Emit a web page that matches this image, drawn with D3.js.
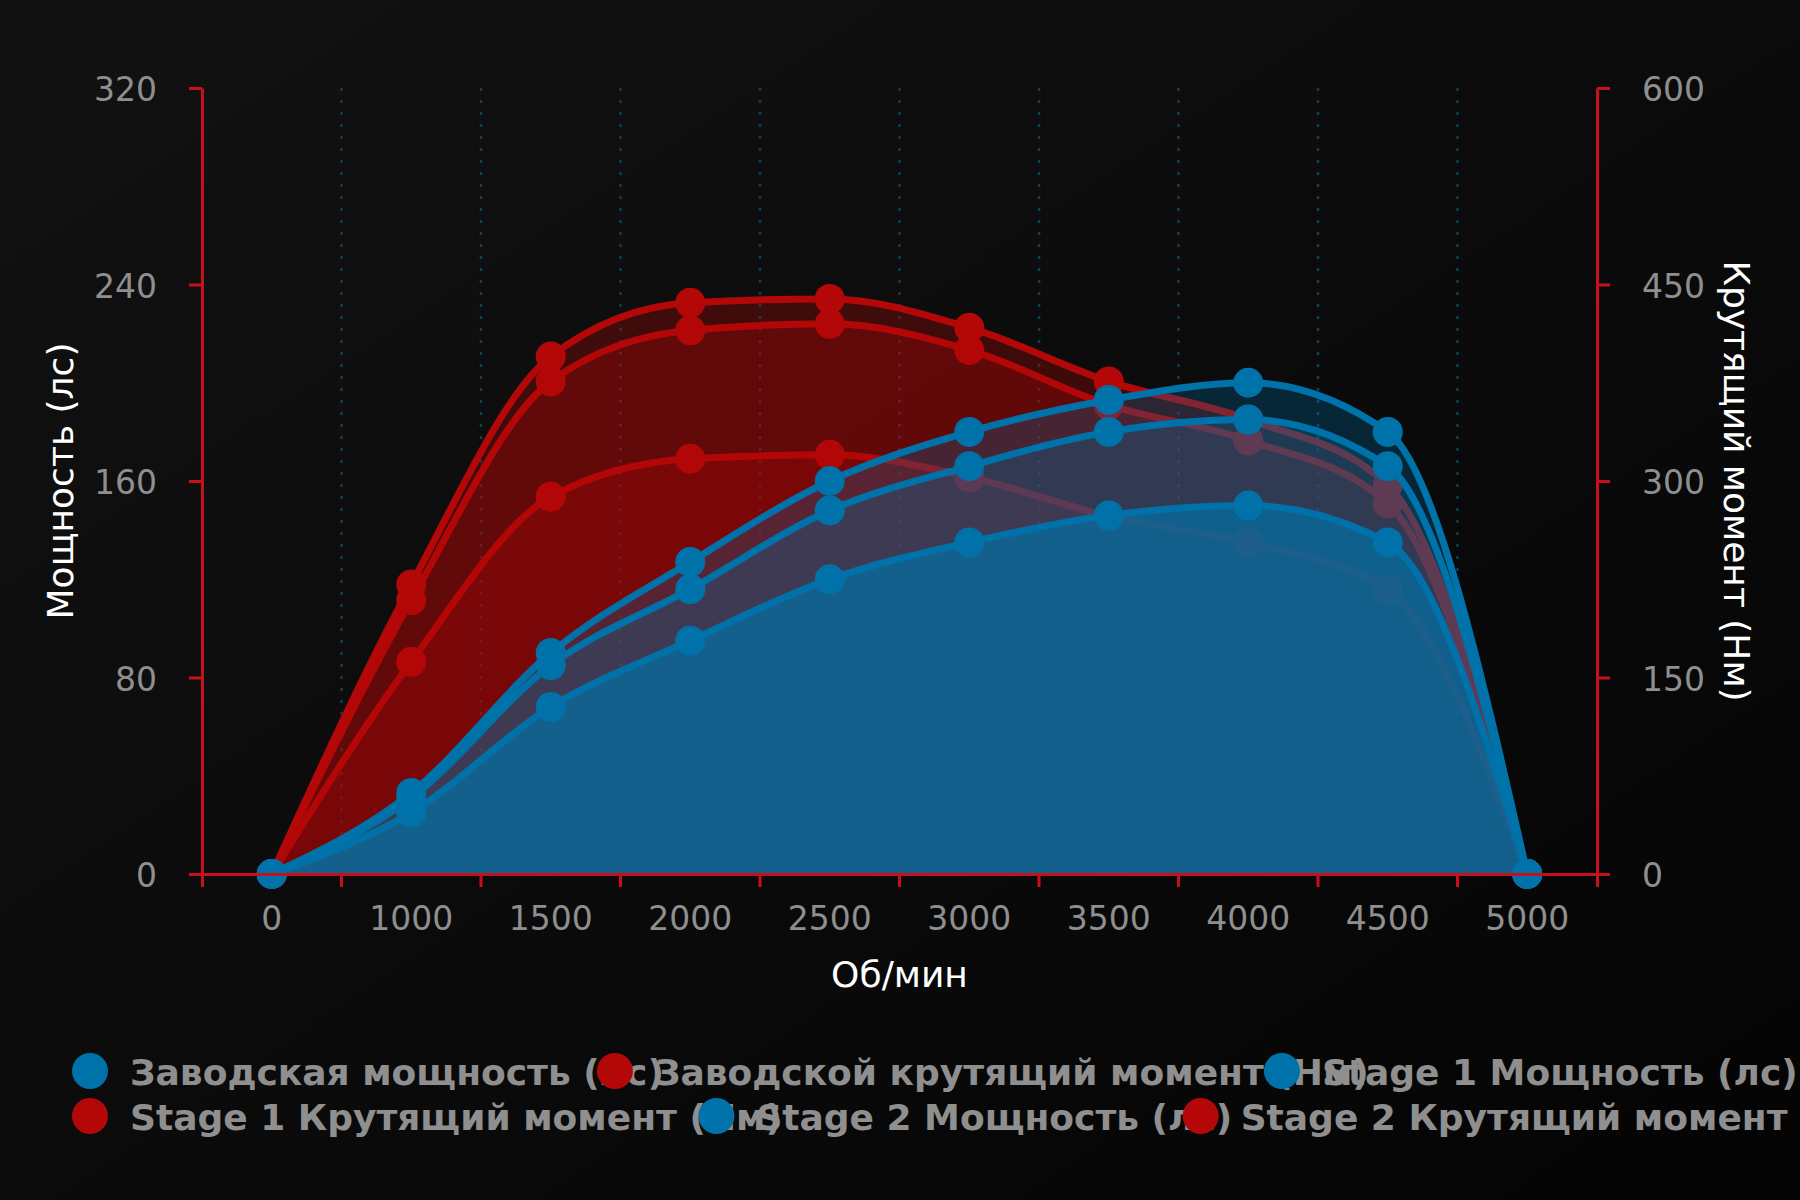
<!DOCTYPE html>
<html>
<head>
<meta charset="utf-8">
<script src="https://cdn.jsdelivr.net/npm/d3@7"></script>
<style>
  html, body { margin: 0; padding: 0; background: #0a0a0a; }
  svg { display: block; font-family: "DejaVu Sans", sans-serif; }
</style>
</head>
<body>
<script>
// engine dyno chart: power (left axis) and torque (right axis)

const rpmLabels = ["0", "1000", "1500", "2000", "2500", "3000", "3500", "4000", "4500", "5000"];

const factoryPower = [0, 25, 68, 95, 120, 135, 146, 150, 135, 0];
const stage1Power = [0, 31, 85, 116, 148, 166, 180, 185, 166, 0];
const stage2Power = [0, 33, 90, 127, 160, 180, 193, 200, 180, 0];

const factoryTorque = [0, 162, 288, 317, 320, 303, 273, 253, 217, 0];
const stage1Torque = [0, 209, 376, 415, 420, 400, 358, 331, 283, 0];
const stage2Torque = [0, 221, 395, 436, 439, 417, 376, 347, 297, 0];

const powerTicks = [0, 80, 160, 240, 320];
const torqueTicks = [0, 150, 300, 450, 600];

const legendLabels = [
    "Заводская мощность (лс)",
    "Заводской крутящий момент (Нм)",
    "Stage 1 Мощность (лс)",
    "Stage 1 Крутящий момент (Нм)",
    "Stage 2 Мощность (лс)",
    "Stage 2 Крутящий момент (Нм)"
];

const blue = "#0072aa";
const red = "#b40808";
const axisRed = "#c8101c";
const grey = "#8f8f8f";

const svgWidth = 1800;
const svgHeight = 1200;
const plotLeft = 202, plotRight = 1597, plotTop = 88, plotBottom = 874;

const svg = d3.select("body")
    .append("svg")
    .attr("width", svgWidth)
    .attr("height", svgHeight);

// background
const grad = svg.append("defs").append("linearGradient")
    .attr("id", "bg")
    .attr("x1", 0).attr("y1", 0).attr("x2", 1).attr("y2", 1);
grad.append("stop").attr("offset", "0%").attr("stop-color", "#121212");
grad.append("stop").attr("offset", "100%").attr("stop-color", "#040404");
svg.append("rect")
    .attr("width", svgWidth)
    .attr("height", svgHeight)
    .attr("fill", "url(#bg)");

const xScale = d3.scaleBand()
    .domain(rpmLabels)
    .range([plotLeft, plotRight])
    .padding(0);
const cx = d => xScale(d) + xScale.bandwidth() / 2;

const yPower = d3.scaleLinear().domain([0, 320]).range([plotBottom, plotTop]);
const yTorque = d3.scaleLinear().domain([0, 600]).range([plotBottom, plotTop]);

// dotted grid on band boundaries
svg.append("g")
    .selectAll("line")
    .data(rpmLabels.slice(1))
    .enter()
    .append("line")
    .attr("x1", d => xScale(d))
    .attr("x2", d => xScale(d))
    .attr("y1", plotTop)
    .attr("y2", plotBottom)
    .attr("stroke", "#0c4054")
    .attr("stroke-width", 2.5)
    .attr("stroke-dasharray", "3,9");

// series table built from the arrays above
const torqueSeries = [
    { values: factoryTorque, opacity: 0.3 },
    { values: stage1Torque, opacity: 0.3 },
    { values: stage2Torque, opacity: 0.3 }
];
const powerSeries = [
    { values: factoryPower, opacity: 0.68 },
    { values: stage1Power, opacity: 0.28 },
    { values: stage2Power, opacity: 0.27 }
];

function drawSeries(s, y, color) {
    const g = svg.append("g");
    const area = d3.area()
        .x((d, i) => cx(rpmLabels[i]))
        .y0(y(0))
        .y1(d => y(d))
        .curve(d3.curveMonotoneX);
    const line = d3.line()
        .x((d, i) => cx(rpmLabels[i]))
        .y(d => y(d))
        .curve(d3.curveMonotoneX);

    g.append("path")
        .datum(s.values)
        .attr("d", area)
        .attr("fill", color)
        .attr("fill-opacity", s.opacity);

    g.append("path")
        .datum(s.values)
        .attr("d", line)
        .attr("fill", "none")
        .attr("stroke", color)
        .attr("stroke-width", 7)
        .attr("stroke-linejoin", "round");

    g.selectAll("circle")
        .data(s.values)
        .enter()
        .append("circle")
        .attr("cx", (d, i) => cx(rpmLabels[i]))
        .attr("cy", d => y(d))
        .attr("r", 15)
        .attr("fill", color);
}

torqueSeries.forEach(s => drawSeries(s, yTorque, red));
powerSeries.forEach(s => drawSeries(s, yPower, blue));

// axes
const xAxis = svg.append("g")
    .attr("transform", `translate(0, ${plotBottom})`)
    .call(d3.axisBottom(xScale).tickSize(0).tickSizeOuter(13).tickPadding(33));

svg.append("g")
    .selectAll("line")
    .data(rpmLabels.slice(1))
    .enter()
    .append("line")
    .attr("x1", d => xScale(d))
    .attr("x2", d => xScale(d))
    .attr("y1", plotBottom)
    .attr("y2", plotBottom + 13)
    .attr("stroke", axisRed)
    .attr("stroke-width", 3);

const yLeft = svg.append("g")
    .attr("transform", `translate(${plotLeft}, 0)`)
    .call(d3.axisLeft(yPower).tickValues(powerTicks).tickSize(13).tickSizeOuter(0).tickPadding(32));

const yRight = svg.append("g")
    .attr("transform", `translate(${plotRight}, 0)`)
    .call(d3.axisRight(yTorque).tickValues(torqueTicks).tickSize(13).tickSizeOuter(0).tickPadding(32));

[xAxis, yLeft, yRight].forEach(g => {
    g.selectAll("path.domain").attr("stroke", axisRed).attr("stroke-width", 3);
    g.selectAll(".tick line").attr("stroke", axisRed).attr("stroke-width", 3);
    g.selectAll(".tick text")
        .attr("fill", grey)
        .style("font-size", "33px")
        .style("font-family", "DejaVu Sans");
});
yLeft.selectAll(".tick text").attr("dy", "0.38em");
yRight.selectAll(".tick text").attr("dy", "0.38em");

// axis titles
svg.append("text")
    .attr("transform", `translate(60, ${(plotTop + plotBottom) / 2}) rotate(-90)`)
    .attr("text-anchor", "middle")
    .attr("dy", "0.35em")
    .attr("fill", "#fff")
    .style("font-size", "36px")
    .text("Мощность (лс)");

svg.append("text")
    .attr("transform", `translate(1737, ${(plotTop + plotBottom) / 2}) rotate(90)`)
    .attr("text-anchor", "middle")
    .attr("dy", "0.35em")
    .attr("fill", "#fff")
    .style("font-size", "36px")
    .text("Крутящий момент (Нм)");

svg.append("text")
    .attr("x", (plotLeft + plotRight) / 2)
    .attr("y", 987)
    .attr("text-anchor", "middle")
    .attr("fill", "#fff")
    .style("font-size", "36px")
    .text("Об/мин");

// legend, 3 items per row, spaced by label length
const legendColors = [blue, red, blue, red, blue, red];
const legend = svg.append("g");
let lx = 90;
legendLabels.forEach((label, i) => {
    if (i % 3 === 0) lx = 90;
    const ly = i < 3 ? 1071 : 1116;
    legend.append("circle")
        .attr("cx", lx)
        .attr("cy", ly)
        .attr("r", 18)
        .attr("fill", legendColors[i]);
    legend.append("text")
        .attr("x", lx + 40)
        .attr("y", ly + 14)
        .attr("fill", grey)
        .style("font-size", "36px")
        .style("font-weight", "bold")
        .text(label);
    lx += label.length * 20.3 + 58;
});
</script>
</body>
</html>
